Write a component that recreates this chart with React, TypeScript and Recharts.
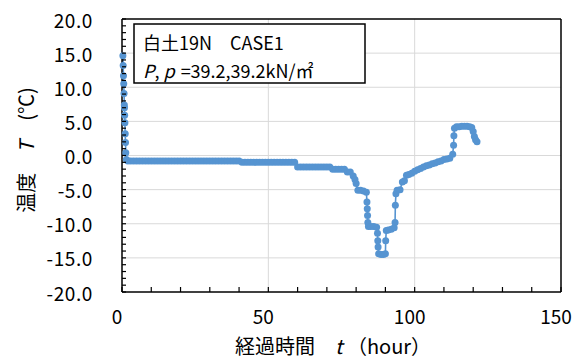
import React from 'react';
import { ComposedChart, Line, XAxis, YAxis, ReferenceLine } from 'recharts';

// Elapsed time (hour) and temperature (℃) of the test record
const hours = [
  0.3, 0.4, 0.5, 0.6, 0.7, 0.8, 0.85, 0.9, 1.0, 1.1, 1.2, 1.3, 1.5,
  2, 3, 4, 5, 6, 7, 8, 9, 10, 11, 12, 13, 14, 15, 16, 17, 18, 19, 20,
  21, 22, 23, 24, 25, 26, 27, 28, 29, 30, 31, 32, 33, 34, 35, 36, 37, 38, 39, 40,
  41, 42, 43, 44, 45, 46, 47, 48, 49, 50, 51, 52, 53, 54, 55, 56, 57, 58, 59,
  60, 61, 62, 63, 64, 65, 66, 67, 68, 69, 70, 71,
  72, 73, 74, 75, 76, 77, 78,
  79, 79.6, 80, 80.6, 81.5, 82.5, 83.5,
  83.7, 83.8, 83.9, 84, 84.2, 85, 86, 87,
  87.3, 87.4, 87.5, 87.7, 88.5, 89.3, 90,
  90.1, 90.3, 91, 92, 93,
  93.3, 93.4, 93.6, 94, 95, 95.8, 96.5, 97.2, 98, 99, 100, 101, 102, 103, 104,
  105, 106, 107, 108, 109, 110, 111, 112, 113,
  113.3, 113.4, 113.6, 114.3, 115.2, 116.1, 117, 117.9, 118.8, 119.5,
  120, 120.4, 120.8, 121.3,
];
const temps = [
  14.6, 13.2, 11.7, 10.5, 9.1, 7.4, 7.0, 5.9, 4.8, 3.2, 1.9, 0.4, -0.6,
  -0.8, -0.8, -0.8, -0.8, -0.8, -0.8, -0.8, -0.8, -0.8, -0.8, -0.8, -0.8, -0.8, -0.8, -0.8, -0.8, -0.8, -0.8, -0.8,
  -0.8, -0.8, -0.8, -0.8, -0.8, -0.8, -0.8, -0.8, -0.8, -0.8, -0.8, -0.8, -0.8, -0.8, -0.8, -0.8, -0.8, -0.8, -0.8, -0.8,
  -1.0, -1.0, -1.0, -1.0, -1.0, -1.0, -1.0, -1.0, -1.0, -1.0, -1.0, -1.0, -1.0, -1.0, -1.0, -1.0, -1.0, -1.0, -1.0,
  -1.7, -1.7, -1.7, -1.7, -1.7, -1.7, -1.7, -1.7, -1.7, -1.7, -1.7, -1.7,
  -2.0, -2.0, -2.0, -2.0, -2.0, -2.4, -2.4,
  -3.0, -3.5, -4.1, -5.1, -5.1, -5.2, -5.4,
  -6.8, -7.8, -8.8, -9.8, -10.4, -10.4, -10.4, -10.5,
  -11.4, -12.5, -13.4, -14.4, -14.5, -14.5, -14.4,
  -12.5, -11.0, -10.9, -10.8, -10.6,
  -9.8, -7.3, -5.6, -5.1, -5.0, -3.9, -3.7, -2.9, -2.8, -2.6, -2.3, -2.1, -1.9, -1.7, -1.5,
  -1.4, -1.2, -1.1, -0.9, -0.8, -0.6, -0.5, -0.4, 0.2,
  1.5, 2.9, 4.0, 4.2, 4.2, 4.3, 4.3, 4.3, 4.2, 4.1,
  3.5, 2.8, 2.3, 2.0,
];

const xTicks = [0, 10, 20, 30, 40, 50, 60, 70, 80, 90, 100, 110, 120, 130, 140, 150];
const yTicks = [
  -20, -19, -18, -17, -16, -15, -14, -13, -12, -11, -10, -9, -8, -7, -6, -5, -4, -3, -2, -1,
  0, 1, 2, 3, 4, 5, 6, 7, 8, 9, 10, 11, 12, 13, 14, 15, 16, 17, 18, 19, 20,
];
const yGrid = [-15, -10, -5, 0, 5, 10, 15];
const xGrid = [50, 100];

const rows = hours.map((t, i) => ({ t, temp: temps[i] }));

const SANS = "'Noto Sans CJK JP', 'Noto Sans', sans-serif";
const BLUE = '#5694d1';

function XTick(props: any) {
  const { x, y, payload } = props;
  const v = payload.value;
  return (
    <g>
      <line x1={x} x2={x} y1={y} y2={y - 5} stroke="#000" strokeWidth={1.2} />
      {v % 50 === 0 && (
        <text x={x - 5} y={y + 23} textAnchor="middle" dominantBaseline="central"
          fontFamily={SANS} fontSize={19} fill="#000">
          {String(v)}
        </text>
      )}
    </g>
  );
}

function YTick(props: any) {
  const { x, y, payload } = props;
  const v = payload.value;
  return (
    <g>
      <line x1={x} x2={x + 4} y1={y} y2={y} stroke="#000" strokeWidth={1.2} />
      {v % 5 === 0 && (
        <text x={x - 29} y={y} textAnchor="end" dominantBaseline="central"
          fontFamily={SANS} fontSize={19} letterSpacing={0.6} fill="#000">
          {v.toFixed(1)}
        </text>
      )}
    </g>
  );
}

export default function App() {
  return (
    <div style={{ position: 'absolute', left: 0, top: 0, width: 580, height: 358, background: '#fff' }}>
      <ComposedChart width={580} height={358} data={rows}
        margin={{ top: 19, right: 19, bottom: 0, left: 0 }}>
        <XAxis dataKey="t" type="number" domain={[0, 150]} ticks={xTicks} interval={0}
          height={66} tickSize={0} tickMargin={0} tick={<XTick />}
          axisLine={{ stroke: '#000', strokeWidth: 1.5 }} tickLine={false} />
        <YAxis type="number" domain={[-20, 20]} ticks={yTicks} interval={0}
          width={122} tickSize={0} tickMargin={0} tick={<YTick />}
          axisLine={{ stroke: '#000', strokeWidth: 1.5 }} tickLine={false} />
        {yGrid.map((v) => (
          <ReferenceLine key={'gy' + v} y={v} stroke="#d9d9d9" strokeWidth={1} />
        ))}
        {xGrid.map((v) => (
          <ReferenceLine key={'gx' + v} x={v} stroke="#d9d9d9" strokeWidth={1} />
        ))}
        <ReferenceLine y={20} stroke="#000" strokeWidth={1.5} />
        <ReferenceLine x={150} stroke="#000" strokeWidth={1.5} />
        <Line dataKey="temp" type="linear" stroke={BLUE} strokeWidth={1.6}
          dot={{ r: 3.5, fill: BLUE, stroke: BLUE, strokeWidth: 0 }}
          isAnimationActive={false} />
      </ComposedChart>
      <svg width={580} height={358} style={{ position: 'absolute', left: 0, top: 0, pointerEvents: 'none' }}>
        <rect x={134} y={24} width={231} height={59} fill="#fff" stroke="#000" strokeWidth={1.5} />
        <text x={143} y={42} dominantBaseline="central" fontFamily={SANS} fontSize={18} fill="#000">
          白土19N　CASE1
        </text>
        <text x={143} y={70} dominantBaseline="central" fontFamily={SANS} fontSize={18} fill="#000">
          <tspan fontStyle="italic">P</tspan>
          <tspan>, </tspan>
          <tspan fontStyle="italic">p</tspan>
          <tspan dx={6}>=39.2,39.2kN/㎡</tspan>
        </text>
        <text x={25} y={150} transform="rotate(-90, 25, 150)" textAnchor="middle" dominantBaseline="central"
          fontFamily={SANS} fontSize={20} fill="#000">
          温度　<tspan fontStyle="italic">T</tspan>　(℃)
        </text>
        <text x={333} y={345} textAnchor="middle" dominantBaseline="central"
          fontFamily={SANS} fontSize={20} fill="#000">
          経過時間　<tspan fontStyle="italic">t</tspan> （hour）
        </text>
      </svg>
    </div>
  );
}
